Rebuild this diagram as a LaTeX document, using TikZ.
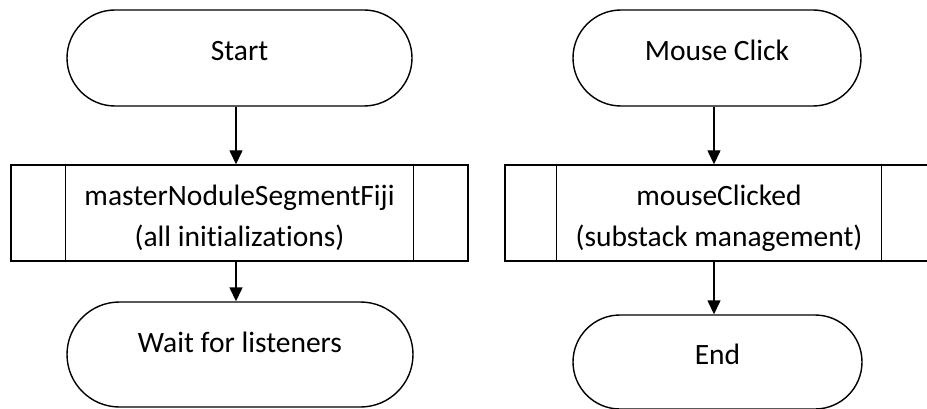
\documentclass[tikz,border=0pt]{standalone}
\usepackage{fontspec}
\setmainfont{Carlito}[Ligatures = NoCommon]
\usetikzlibrary{arrows.meta, shapes.misc, positioning}
\definecolor{lineblack}{gray}{0}

\begin{document}
\begin{tikzpicture}[x = 1pt, y = -1pt]%
    %
    \def\barwidth{55pt}%
    %
    \tikzstyle{arrow} = [-{Triangle[width = 13pt, length = 14pt]}, line width = 1.4pt, draw = lineblack]%
    \tikzstyle{terminal} = [rounded rectangle, draw = lineblack, line width = 1.4pt, minimum height = 96pt, text height = 18pt, text depth = 13pt, inner sep = 0pt]%
    \tikzstyle{subprocess} = [rectangle, draw = lineblack, line width = 1.4pt, minimum height = 96pt, align = center, text height = 68pt, text depth = 0pt, inner sep = 0pt]%
    %
    \useasboundingbox (0, 0) rectangle (927, 409);%
    \fontsize{29.5}{41}\selectfont%
    %
    % Left flow
    \node (start) [terminal, minimum width = 345pt] at (239.5, 58) {Start};%
    \node (init) [subprocess, minimum width = 457pt] at (239.5, 213) {masterNoduleSegmentFiji\\(all initializations)};%
    \node (wait) [terminal, minimum width = 346pt, minimum height = 105pt, text height = 13pt, text depth = 17pt] at (240, 354.5) {Wait for listeners};%
    %
    % Right flow
    \node (click) [terminal, minimum width = 288pt] at (717, 58) {Mouse Click};%
    \node (clicked) [subprocess, minimum width = 428pt] at (719, 213) {mouseClicked\\(substack management)};%
    \node (stop) [terminal, minimum width = 289pt, minimum height = 94pt] at (717.5, 362) {End};%
    %
    % Subprocess side bars
    \draw [line width = 1.4pt] ([xshift = \barwidth]init.north west) -- ([xshift = \barwidth]init.south west);%
    \draw [line width = 1.4pt] ([xshift = -\barwidth]init.north east) -- ([xshift = -\barwidth]init.south east);%
    \draw [line width = 1.4pt] ([xshift = 52pt]clicked.north west) -- ([xshift = 52pt]clicked.south west);%
    \draw [line width = 1.4pt] ([xshift = -52pt]clicked.north east) -- ([xshift = -52pt]clicked.south east);%
    %
    % Arrows
    \draw [arrow] ([xshift = -3.5pt]start.south) -- ([xshift = -3.5pt]init.north);%
    \draw [arrow] ([xshift = -3.5pt]init.south) -- ([xshift = -4pt]wait.north);%
    \draw [arrow] ([xshift = -3pt]click.south) -- ([xshift = -5pt]clicked.north);%
    \draw [arrow] ([xshift = -5pt]clicked.south) -- ([xshift = -3.5pt]stop.north);%
    %
\end{tikzpicture}
\end{document}
